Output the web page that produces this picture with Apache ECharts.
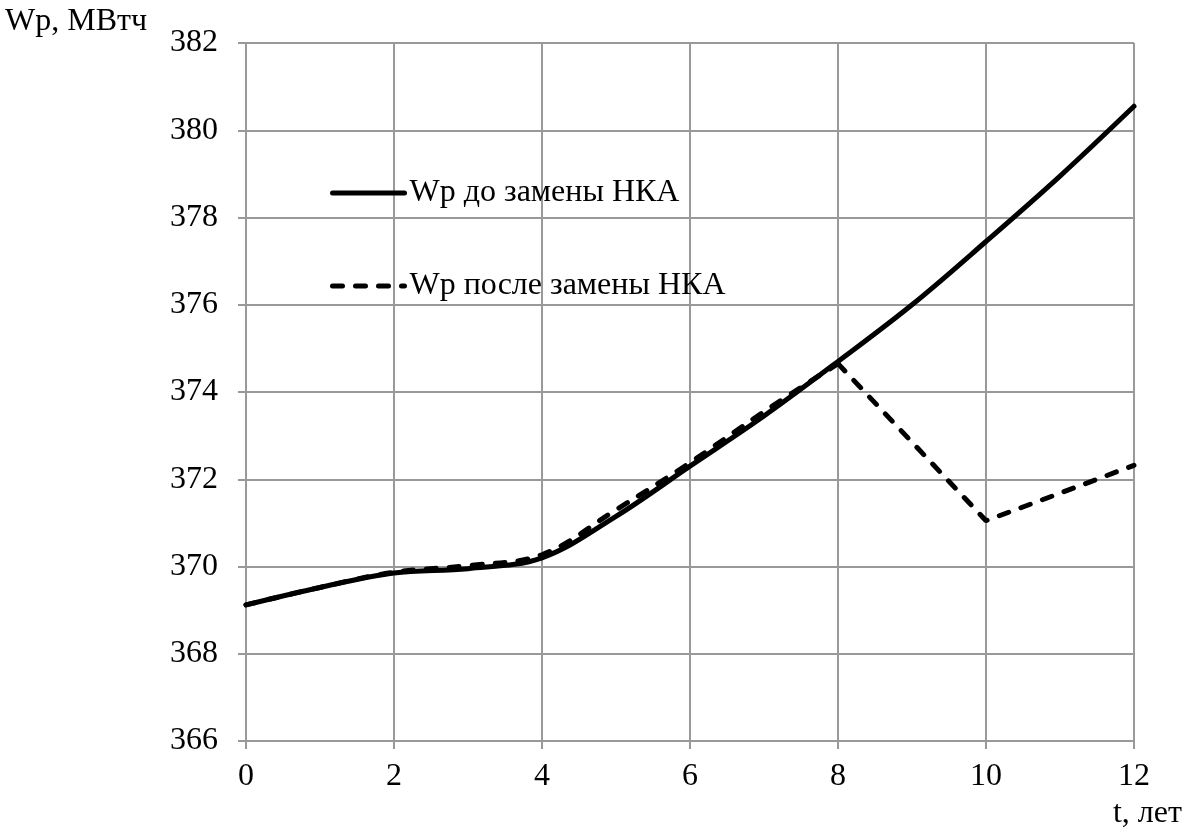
<!DOCTYPE html>
<html>
<head>
<meta charset="utf-8">
<script src="https://cdn.jsdelivr.net/npm/echarts@6/dist/echarts.min.js"></script>
<style>
  html, body { margin: 0; padding: 0; background: #fff; }
  #chart { width: 1195px; height: 832px; }
</style>
</head>
<body>
<div id="chart"></div>
<script>
// Years of operation
const years = [0, 1, 2, 3, 4, 5, 6, 7, 8, 9, 10, 11, 12];
// Energy Wp before the replacement, MWh
const wpBefore = [369.12, 369.52, 369.85, 369.95, 370.2, 371.15, 372.3, 373.45, 374.7, 376.0, 377.45, 378.95, 380.55];
// Energy Wp after the replacement, MWh (replacement at year 8)
const wpAfter = [369.12, 369.52, 369.87, 370.02, 370.27, 371.3, 372.38, 373.55, 374.65, 372.85, 371.05, 371.68, 372.32];
const replaceYear = 8;

const nameBefore = 'Wp до замены НКА';
const nameAfter = 'Wp после замены НКА';
const yTicks = { min: 366, max: 382, step: 2 };
const xTicks = { min: 0, max: 12, step: 2 };

const FONT = '"Liberation Serif", "Times New Roman", serif';
const FONT_SIZE = 32;
const GRID_COLOR = '#999999';
const LINE_W = 5;
const DASH = [10, 13];

const pairs = (xs, ys) => xs.map((x, i) => [x, ys[i]]);
const afterAll = pairs(years, wpAfter);
// smooth part up to the replacement year, straight segments after it
const afterSmooth = afterAll.filter(p => p[0] <= replaceYear);
const afterLinear = afterAll.filter(p => p[0] >= replaceYear);

const chart = echarts.init(document.getElementById('chart'), null, { renderer: 'canvas' });

const axisCommon = {
  type: 'value',
  axisLine: { show: true, lineStyle: { color: GRID_COLOR, width: 2 } },
  axisTick: { show: true, inside: false, length: 8, lineStyle: { color: GRID_COLOR, width: 2 } },
  splitLine: { show: true, lineStyle: { color: GRID_COLOR, width: 2 } }
};

chart.setOption({
  animation: false,
  backgroundColor: '#ffffff',
  textStyle: { fontFamily: FONT, color: '#000' },
  grid: { left: 246, right: 61, top: 43, bottom: 91, containLabel: false },
  legend: {
    orient: 'vertical',
    left: 330,
    top: 177,
    padding: 0,
    itemWidth: 72,
    itemHeight: 40,
    itemGap: 61,
    data: [nameBefore, nameAfter],
    selectedMode: false,
    itemStyle: { opacity: 0 },
    lineStyle: { width: LINE_W, cap: 'round' },
    textStyle: { fontFamily: FONT, fontSize: FONT_SIZE, color: '#000' }
  },
  xAxis: Object.assign({}, axisCommon, {
    min: xTicks.min,
    max: xTicks.max,
    interval: xTicks.step,
    axisLabel: { margin: 20, fontFamily: FONT, fontSize: FONT_SIZE, color: '#000' }
  }),
  yAxis: Object.assign({}, axisCommon, {
    min: yTicks.min,
    max: yTicks.max,
    interval: yTicks.step,
    axisLabel: { margin: 28, fontFamily: FONT, fontSize: FONT_SIZE, color: '#000' }
  }),
  graphic: [
    {
      type: 'text', left: 5, top: 6,
      style: { text: 'Wp, МВтч', font: FONT_SIZE + 'px ' + FONT, fill: '#000' }
    },
    {
      type: 'text', right: 13, top: 798,
      style: { text: 't, лет', font: FONT_SIZE + 'px ' + FONT, fill: '#000' }
    }
  ],
  series: [
    {
      name: nameBefore,
      type: 'line',
      data: pairs(years, wpBefore),
      smooth: 0.35,
      symbol: 'none',
      z: 3,
      lineStyle: { color: '#000', width: LINE_W, type: 'solid', cap: 'round' },
      itemStyle: { color: '#000' }
    },
    {
      name: nameAfter,
      type: 'line',
      data: afterSmooth,
      smooth: 0.35,
      symbol: 'none',
      z: 2,
      lineStyle: { color: '#000', width: LINE_W, type: DASH, cap: 'round' },
      itemStyle: { color: '#000' }
    },
    {
      name: nameAfter,
      type: 'line',
      data: afterLinear,
      smooth: false,
      symbol: 'none',
      z: 2,
      lineStyle: { color: '#000', width: LINE_W, type: DASH, cap: 'round' },
      itemStyle: { color: '#000' }
    }
  ]
});
</script>
</body>
</html>
